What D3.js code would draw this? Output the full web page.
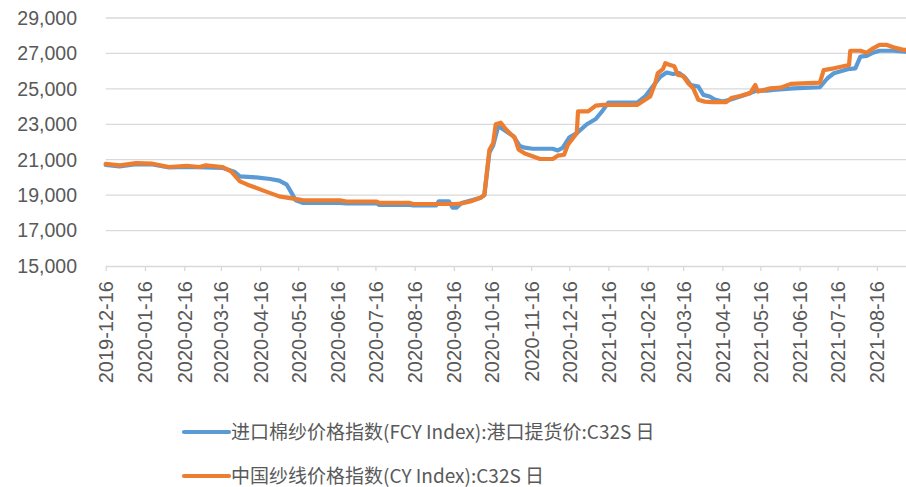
<!DOCTYPE html>
<html><head><meta charset="utf-8">
<script src="https://cdn.jsdelivr.net/npm/d3@7"></script>
<style>
html,body{margin:0;padding:0;background:#fff;}
svg{display:block;}
</style></head>
<body>
<svg id="chart" width="906" height="487"></svg>
<script>
const seriesNames = ["进口棉纱价格指数(FCY Index):港口提货价:C32S 日", "中国纱线价格指数(CY Index):C32S 日"];
const seriesColors = ["#5B9BD5", "#ED7D31"];
const yTicks = [15000, 17000, 19000, 21000, 23000, 25000, 27000, 29000];
const tickLabels = ["2019-12-16","2020-01-16","2020-02-16","2020-03-16","2020-04-16","2020-05-16","2020-06-16","2020-07-16","2020-08-16","2020-09-16","2020-10-16","2020-11-16","2020-12-16","2021-01-16","2021-02-16","2021-03-16","2021-04-16","2021-05-16","2021-06-16","2021-07-16","2021-08-16"];
const domainDates = ["2019-12-16", "2021-09-08"];

const fcyDates = ["2019-12-16","2019-12-27","2020-01-09","2020-01-22","2020-02-04","2020-02-18","2020-03-04","2020-03-17","2020-03-27","2020-03-31","2020-04-13","2020-04-24","2020-05-01","2020-05-07","2020-05-11","2020-05-14","2020-05-20","2020-06-18","2020-06-23","2020-07-17","2020-07-19","2020-08-12","2020-08-15","2020-09-02","2020-09-04","2020-09-12","2020-09-15","2020-09-18","2020-09-22","2020-09-30","2020-10-07","2020-10-10","2020-10-14","2020-10-17","2020-10-21","2020-10-23","2020-11-02","2020-11-07","2020-11-11","2020-11-17","2020-12-03","2020-12-07","2020-12-11","2020-12-16","2020-12-22","2020-12-30","2021-01-06","2021-01-11","2021-01-16","2021-02-08","2021-02-14","2021-02-20","2021-02-26","2021-03-03","2021-03-08","2021-03-13","2021-03-18","2021-03-22","2021-03-28","2021-04-01","2021-04-06","2021-04-10","2021-04-16","2021-04-22","2021-04-30","2021-05-08","2021-05-13","2021-05-21","2021-05-26","2021-06-11","2021-07-02","2021-07-08","2021-07-13","2021-07-24","2021-07-30","2021-08-03","2021-08-08","2021-08-13","2021-08-18","2021-08-29","2021-09-08"];
const fcyValues = [20700,20620,20750,20740,20560,20600,20560,20540,20300,20060,20000,19910,19820,19590,19100,18710,18560,18560,18530,18530,18450,18450,18420,18420,18650,18650,18290,18290,18560,18710,18850,19000,21400,21800,22890,22800,22330,21770,21680,21620,21620,21520,21680,22250,22500,23000,23300,23730,24230,24230,24570,25130,25690,25920,25840,25890,25600,25220,25130,24660,24570,24400,24280,24380,24570,24760,24900,24900,24940,25030,25090,25600,25880,26110,26160,26820,26860,27040,27150,27150,27100];

const cyDates = ["2019-12-16","2019-12-27","2020-01-09","2020-01-22","2020-02-04","2020-02-18","2020-02-28","2020-03-04","2020-03-17","2020-03-24","2020-03-31","2020-04-06","2020-04-18","2020-05-01","2020-05-17","2020-05-20","2020-06-18","2020-06-23","2020-07-17","2020-07-19","2020-08-12","2020-08-15","2020-09-18","2020-09-21","2020-09-29","2020-10-07","2020-10-10","2020-10-14","2020-10-17","2020-10-19","2020-10-23","2020-10-27","2020-10-31","2020-11-03","2020-11-06","2020-11-11","2020-11-17","2020-11-23","2020-12-03","2020-12-07","2020-12-12","2020-12-15","2020-12-22","2020-12-23","2020-12-31","2021-01-06","2021-01-12","2021-02-08","2021-02-13","2021-02-18","2021-02-22","2021-02-24","2021-02-28","2021-03-02","2021-03-05","2021-03-09","2021-03-12","2021-03-16","2021-03-20","2021-03-24","2021-03-28","2021-04-02","2021-04-08","2021-04-19","2021-04-23","2021-04-30","2021-05-08","2021-05-12","2021-05-14","2021-05-24","2021-06-01","2021-06-09","2021-07-02","2021-07-05","2021-07-13","2021-07-25","2021-07-26","2021-08-03","2021-08-08","2021-08-13","2021-08-18","2021-08-24","2021-08-29","2021-09-06","2021-09-08"];
const cyValues = [20770,20680,20810,20775,20590,20660,20590,20680,20590,20340,19780,19590,19270,18930,18750,18710,18710,18640,18640,18560,18560,18500,18500,18520,18640,18850,19000,21560,21940,23000,23090,22720,22440,22250,21580,21350,21200,21040,21040,21230,21280,21840,22500,23730,23730,24050,24100,24100,24340,24570,25330,25890,26110,26450,26360,26270,25780,25730,25320,25030,24380,24280,24250,24250,24480,24600,24760,25220,24850,25030,25070,25280,25350,26060,26160,26350,27150,27150,27040,27290,27480,27480,27350,27200,27200];

const parse = d3.timeParse("%Y-%m-%d");
const svg = d3.select("#chart");
const mLeft = 105.7, mRight = 906, mTop = 18, mBottom = 266;

const x = d3.scaleTime().domain(domainDates.map(parse)).range([mLeft, mRight]);
const y = d3.scaleLinear().domain([15000, 29000]).range([mBottom, mTop]);

const textColor = "#595959";
const gridColor = "#d9d9d9";

// gridlines
svg.append("g").selectAll("line").data(yTicks.filter(v => v > 15000)).join("line")
  .attr("x1", mLeft).attr("x2", mRight)
  .attr("y1", d => y(d)).attr("y2", d => y(d))
  .attr("stroke", gridColor).attr("stroke-width", 1.3);

// y labels
svg.append("g").selectAll("text").data(yTicks).join("text")
  .attr("x", 77).attr("y", d => y(d)).attr("dy", "0.35em")
  .attr("text-anchor", "end")
  .attr("font-family", "Liberation Sans, Arial, sans-serif")
  .attr("font-size", 19.5).attr("fill", textColor)
  .text(d => d3.format(",")(d));

// x axis
const xAxis = d3.axisBottom(x)
  .tickValues(tickLabels.map(parse))
  .tickSize(5).tickSizeOuter(0)
  .tickFormat(d3.timeFormat("%Y-%m-%d"));
const gx = svg.append("g").attr("transform", `translate(0,${mBottom})`).call(xAxis);
gx.select(".domain").attr("stroke", gridColor).attr("stroke-width", 1.3);
gx.selectAll(".tick line").attr("stroke", gridColor).attr("stroke-width", 1.3);
gx.selectAll(".tick text")
  .attr("font-family", "Liberation Sans, Arial, sans-serif")
  .attr("font-size", 20).attr("fill", textColor)
  .attr("transform", "rotate(-90)")
  .attr("text-anchor", "end")
  .attr("x", -15).attr("y", 0).attr("dy", "0.35em");

// clip
svg.append("clipPath").attr("id", "clip").append("rect")
  .attr("x", mLeft - 5).attr("y", 0).attr("width", mRight - mLeft + 5).attr("height", mBottom + 5);

const line = d3.line().x(d => x(d[0])).y(d => y(d[1]));
const fcy = fcyDates.map((d, i) => [parse(d), fcyValues[i]]);
const cy = cyDates.map((d, i) => [parse(d), cyValues[i]]);

[fcy, cy].forEach((s, i) => {
  svg.append("path").datum(s)
    .attr("clip-path", "url(#clip)")
    .attr("fill", "none").attr("stroke", seriesColors[i])
    .attr("stroke-width", 4.2).attr("stroke-linejoin", "round").attr("stroke-linecap", "round")
    .attr("d", line);
});

// legend
const legY = [432, 476];
seriesNames.forEach((name, i) => {
  const g = svg.append("g");
  g.append("line").attr("x1", 184).attr("x2", 229).attr("y1", legY[i]).attr("y2", legY[i])
    .attr("stroke", seriesColors[i]).attr("stroke-width", 4.2).attr("stroke-linecap", "round");
  g.append("text").attr("x", 231).attr("y", legY[i]).attr("dy", "0.36em")
    .attr("font-family", "Noto Sans CJK SC, Noto Sans, sans-serif")
    .attr("font-size", 19).attr("fill", textColor)
    .text(name);
});
</script>
</body></html>
